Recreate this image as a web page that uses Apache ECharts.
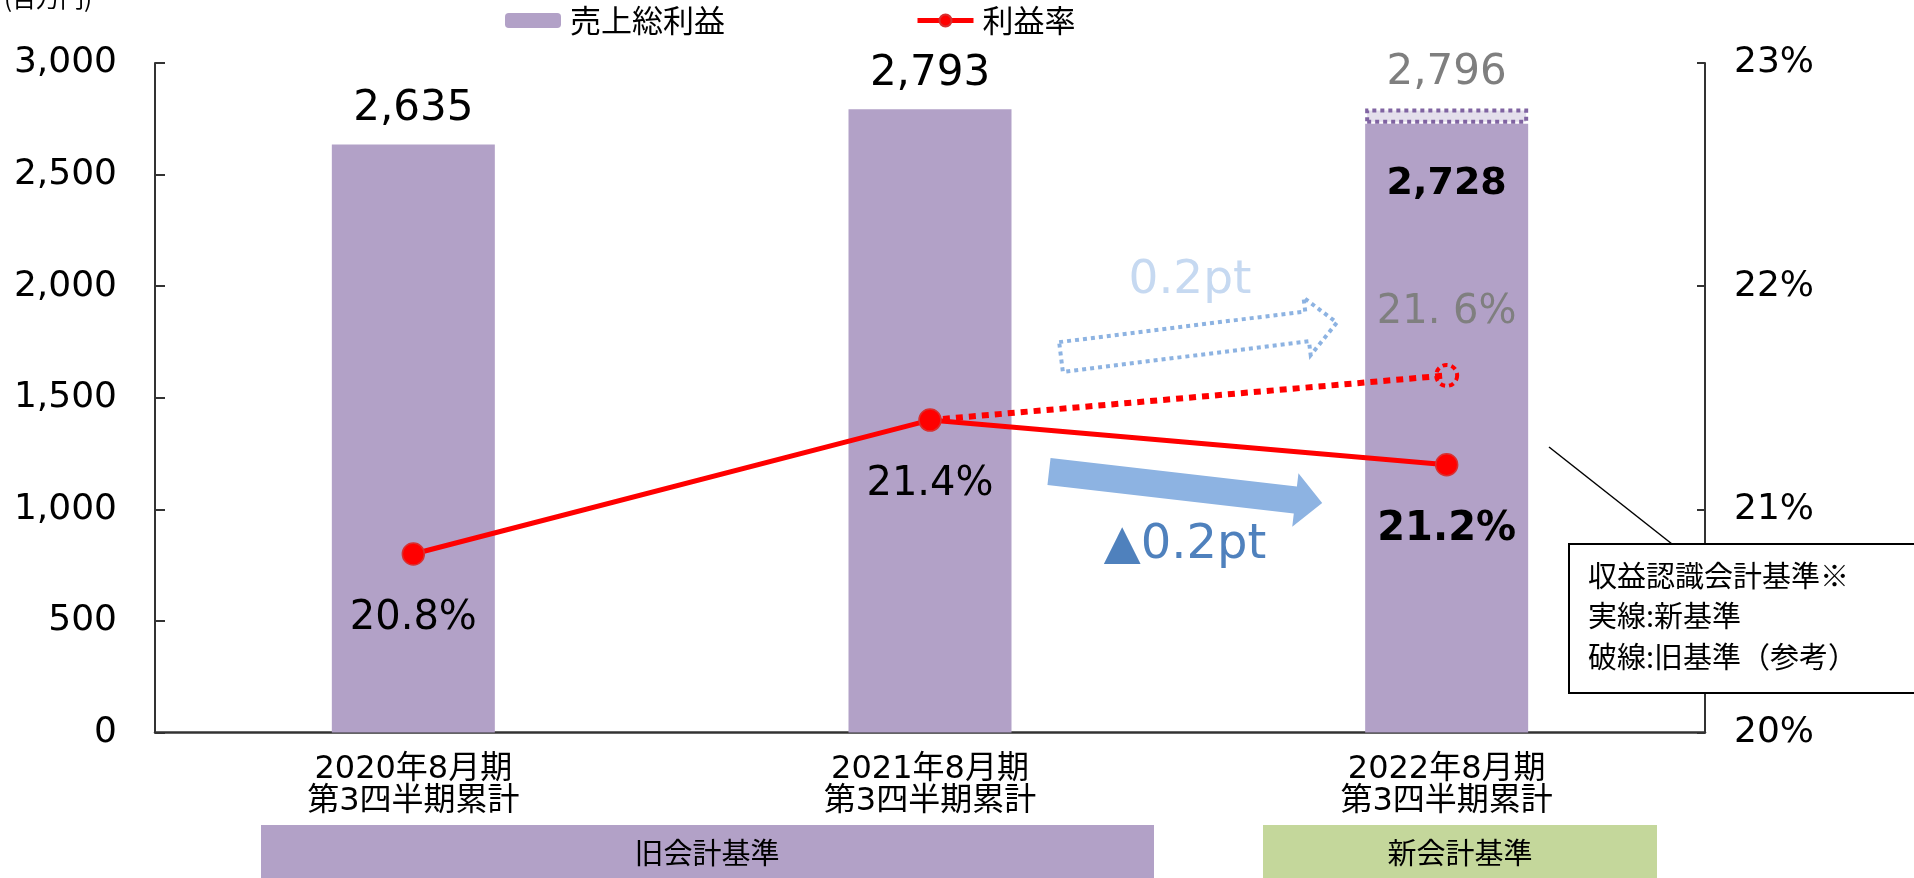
<!DOCTYPE html>
<html>
<head>
<meta charset="utf-8">
<script src="https://cdn.jsdelivr.net/npm/echarts@6/dist/echarts.min.js"></script>
<style>
html,body{margin:0;padding:0;background:#fff;}
#c{width:1914px;height:878px;}
</style>
</head>
<body>
<div id="c"></div>
<script>
// ---- data ----
const categories = ['2020年8月期\n第3四半期累計', '2021年8月期\n第3四半期累計', '2022年8月期\n第3四半期累計'];
const grossProfit = [2635, 2793, 2728];          // 売上総利益 (新基準)
const grossProfitOld = [null, null, 2796];       // 旧基準(参考)
const profitRate = [20.8, 21.4, 21.2];           // 利益率
const profitRateOld = [null, 21.4, 21.6];        // 利益率 旧基準(参考)
const leftTicks = {min: 0, max: 3000, interval: 500};
const rightTicks = {min: 20, max: 23, interval: 1};
const bands = [{text: '旧会計基準'}, {text: '新会計基準'}];
const noteLines = ['収益認識会計基準※', '実線:新基準', '破線:旧基準（参考）'];

const NUM = "'DejaVu Sans', 'Noto Sans CJK JP', sans-serif";
const CJK = "'Noto Sans CJK JP', 'DejaVu Sans', sans-serif";
const BAR = '#b2a1c7';
const RED = '#ff0000';
const fmt = v => Number(v).toLocaleString('en-US');

function arrow(x0, y0, angDeg, bodyLen, bh, headLen, hh) {
  const a = angDeg * Math.PI / 180, c = Math.cos(a), s = Math.sin(a);
  const local = [[0,-bh],[bodyLen,-bh],[bodyLen,-hh],[bodyLen+headLen,0],[bodyLen,hh],[bodyLen,bh],[0,bh]];
  return local.map(([u, v]) => [x0 + u*c - v*s, y0 + u*s + v*c]);
}

const chart = echarts.init(document.getElementById('c'), null, {renderer: 'canvas'});

const barData = grossProfit.map((v, i) => {
  if (i === 2) {
    return {value: v, label: {position: 'insideTop', distance: 41, fontWeight: 'bold', fontSize: 38}};
  }
  return {value: v};
});
const oldDiff = grossProfitOld.map((v, i) => v == null ? '-' : v - grossProfit[i]);

const rateData = profitRate.map((v, i) => {
  if (i === 2) return {value: v, label: {fontWeight: 'bold'}};
  return {value: v};
});
const rateOldData = profitRateOld.map((v, i) => {
  if (v == null) return '-';
  if (i === 1) return {value: v, symbol: 'none', label: {show: false}};
  return {value: v};
});

chart.setOption({
  animation: false,
  backgroundColor: '#fff',
  grid: {left: 155, right: 209, top: 63, bottom: 145.5},
  legend: {
    left: 505, top: 5, padding: 0, itemGap: 190,
    itemWidth: 56, itemHeight: 15,
    textStyle: {fontFamily: CJK, fontSize: 31, color: '#000', padding: [0, 0, 0, 4]},
    data: [
      {name: '売上総利益'},
      {name: '利益率', lineStyle: {width: 5}}
    ]
  },
  xAxis: {
    type: 'category', data: categories,
    axisLine: {lineStyle: {color: '#333', width: 2.5}},
    axisTick: {show: false},
    axisLabel: {fontFamily: NUM, fontSize: 32, lineHeight: 32, color: '#000', margin: 21}
  },
  yAxis: [
    {
      type: 'value', min: leftTicks.min, max: leftTicks.max, interval: leftTicks.interval,
      splitLine: {show: false},
      axisLine: {show: true, lineStyle: {color: '#333', width: 2}},
      axisTick: {show: true, inside: true, length: 10, lineStyle: {color: '#333', width: 2}},
      axisLabel: {fontFamily: NUM, fontSize: 36, color: '#000', margin: 38, formatter: v => fmt(v)}
    },
    {
      type: 'value', min: rightTicks.min, max: rightTicks.max, interval: rightTicks.interval,
      position: 'right',
      splitLine: {show: false},
      axisLine: {show: true, lineStyle: {color: '#333', width: 2}},
      axisTick: {show: true, inside: true, length: 8, lineStyle: {color: '#333', width: 2}},
      axisLabel: {fontFamily: NUM, fontSize: 36, color: '#000', margin: 29, formatter: '{value}%'}
    }
  ],
  series: [
    {
      name: '売上総利益', type: 'bar', stack: 'g', barWidth: 163,
      itemStyle: {color: BAR},
      label: {show: true, position: 'top', distance: 14, fontFamily: NUM, fontSize: 42, color: '#000',
        formatter: p => fmt(p.value)},
      data: barData, z: 2
    },
    {
      name: '旧基準', type: 'bar', stack: 'g', barWidth: 163,
      itemStyle: {color: '#e4dfec', borderColor: '#8064a2', borderWidth: 4, borderType: [4, 4]},
      label: {show: true, position: 'top', distance: 14, fontFamily: NUM, fontSize: 42, color: '#7f7f7f',
        formatter: p => fmt(grossProfitOld[p.dataIndex])},
      data: oldDiff, z: 2
    },
    {
      name: '利益率旧', type: 'line', yAxisIndex: 1,
      lineStyle: {color: RED, width: 6, type: [7, 6]},
      symbol: 'circle', symbolSize: 21,
      itemStyle: {color: 'rgba(0,0,0,0)', borderColor: RED, borderWidth: 4, borderType: [5, 4]},
      label: {show: true, position: 'top', distance: 30, fontFamily: NUM, fontSize: 40, color: '#7f7f7f',
        formatter: p => String(p.value).replace('.', '. ') + '%'},
      data: rateOldData, z: 3
    },
    {
      name: '利益率', type: 'line', yAxisIndex: 1,
      lineStyle: {color: RED, width: 5},
      symbol: 'circle', symbolSize: 22,
      itemStyle: {color: RED, borderColor: '#d83030', borderWidth: 1.5},
      label: {show: true, position: 'bottom', distance: 33, fontFamily: NUM, fontSize: 40, color: '#000',
        formatter: p => p.value.toFixed(1) + '%'},
      data: rateData, z: 5
    }
  ],
  graphic: [
    {type: 'text', left: 4, top: -14, style: {text: '(百万円)', font: "24px " + CJK, fill: '#000'}},
    // arrows
    {type: 'polygon', shape: {points: arrow(1049, 471.5, 6.6, 248, 13.5, 27, 27)},
      style: {fill: '#8db3e2'}, z: 10},
    {type: 'polygon', shape: {points: arrow(1061, 357, -7.1, 248, 15, 30, 29)},
      style: {fill: null, stroke: '#8db3e2', lineWidth: 4, lineDash: [4, 4]}, z: 10},
    {type: 'text', x: 1190, y: 281, style: {text: '0.2pt', font: "47px " + NUM, fill: '#c6d9f1',
      textAlign: 'center', textVerticalAlign: 'middle'}, z: 10},
    {type: 'text', x: 1185, y: 546, style: {text: '▲0.2pt', font: "48px " + NUM, fill: '#4f81bd',
      textAlign: 'center', textVerticalAlign: 'middle'}, z: 10},
    // note box
    {type: 'line', shape: {x1: 1549, y1: 447, x2: 1672, y2: 544}, style: {stroke: '#000', lineWidth: 1.5}, z: 20},
    {type: 'rect', shape: {x: 1569, y: 544, width: 400, height: 149},
      style: {fill: '#fff', stroke: '#000', lineWidth: 2}, z: 20},
    {type: 'text', x: 1588, y: 576, style: {text: noteLines[0], font: "29px " + CJK, fill: '#000', textVerticalAlign: 'middle'}, z: 21},
    {type: 'text', x: 1588, y: 616, style: {text: noteLines[1], font: "29px " + CJK, fill: '#000', textVerticalAlign: 'middle'}, z: 21},
    {type: 'text', x: 1588, y: 657, style: {text: noteLines[2], font: "29px " + CJK, fill: '#000', textVerticalAlign: 'middle'}, z: 21},
    // bottom bands
    {type: 'rect', shape: {x: 261, y: 825, width: 893, height: 60}, style: {fill: BAR}, z: 1},
    {type: 'rect', shape: {x: 1263, y: 825, width: 394, height: 60}, style: {fill: '#c4d79b'}, z: 1},
    {type: 'text', x: 707, y: 853, style: {text: bands[0].text, font: "29px " + CJK, fill: '#000',
      textAlign: 'center', textVerticalAlign: 'middle'}, z: 2},
    {type: 'text', x: 1460, y: 853, style: {text: bands[1].text, font: "29px " + CJK, fill: '#000',
      textAlign: 'center', textVerticalAlign: 'middle'}, z: 2}
  ]
});
</script>
</body>
</html>
